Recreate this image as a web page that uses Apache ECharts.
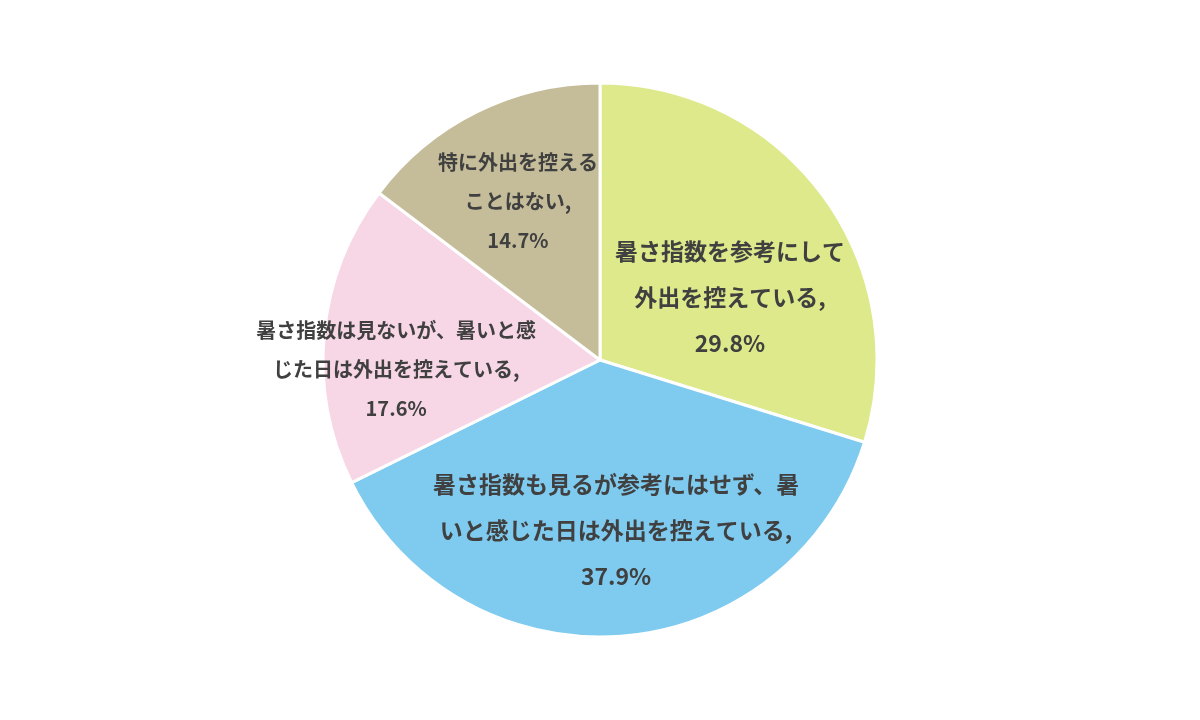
<!DOCTYPE html>
<html>
<head>
<meta charset="utf-8">
<script src="https://cdn.jsdelivr.net/npm/echarts@6/dist/echarts.min.js"></script>
<style>
  html, body { margin: 0; padding: 0; background: #fff; }
  #chart { width: 1200px; height: 720px; }
</style>
</head>
<body>
<div id="chart"></div>
<script>
// 回答カテゴリ（改行は元図の折り返し位置）
const categories = [
  '暑さ指数を参考にして\n外出を控えている',
  '暑さ指数も見るが参考にはせず、暑\nいと感じた日は外出を控えている',
  '暑さ指数は見ないが、暑いと感\nじた日は外出を控えている',
  '特に外出を控える\nことはない'
]
const shares = [29.8, 37.9, 17.6, 14.7]
const colors = ['#dde98a', '#7ecbef', '#f7d6e6', '#c5bd99']

// ラベルの見た目（サイズ・ずらし量）
const labelSizes = [23, 23, 20, 20]
const labelLineHeights = [46, 46, 39, 39]
const labelShift = [[16, 21], [5, 29], [-63, 23], [-19, -32]]

const chart = echarts.init(document.getElementById('chart'))

chart.setOption({
  animation: false,
  backgroundColor: '#fff',
  series: [{
    type: 'pie',
    center: [600, 360],
    radius: [0, 277],
    startAngle: 90,
    clockwise: true,
    itemStyle: {
      borderColor: '#fff',
      borderWidth: 3
    },
    label: {
      position: 'inside',
      color: '#404040',
      fontFamily: '"Noto Sans CJK JP", sans-serif',
      fontWeight: 'bold',
      align: 'center',
      formatter: (p) => p.name + ',\n' + p.value.toFixed(1) + '%'
    },
    labelLine: { show: false },
    labelLayout: (params) => ({
      dx: labelShift[params.dataIndex][0],
      dy: labelShift[params.dataIndex][1]
    }),
    emphasis: { disabled: true },
    data: categories.map((name, i) => ({
      name: name,
      value: shares[i],
      itemStyle: { color: colors[i] },
      label: {
        fontSize: labelSizes[i],
        lineHeight: labelLineHeights[i]
      }
    }))
  }]
})
</script>
</body>
</html>
